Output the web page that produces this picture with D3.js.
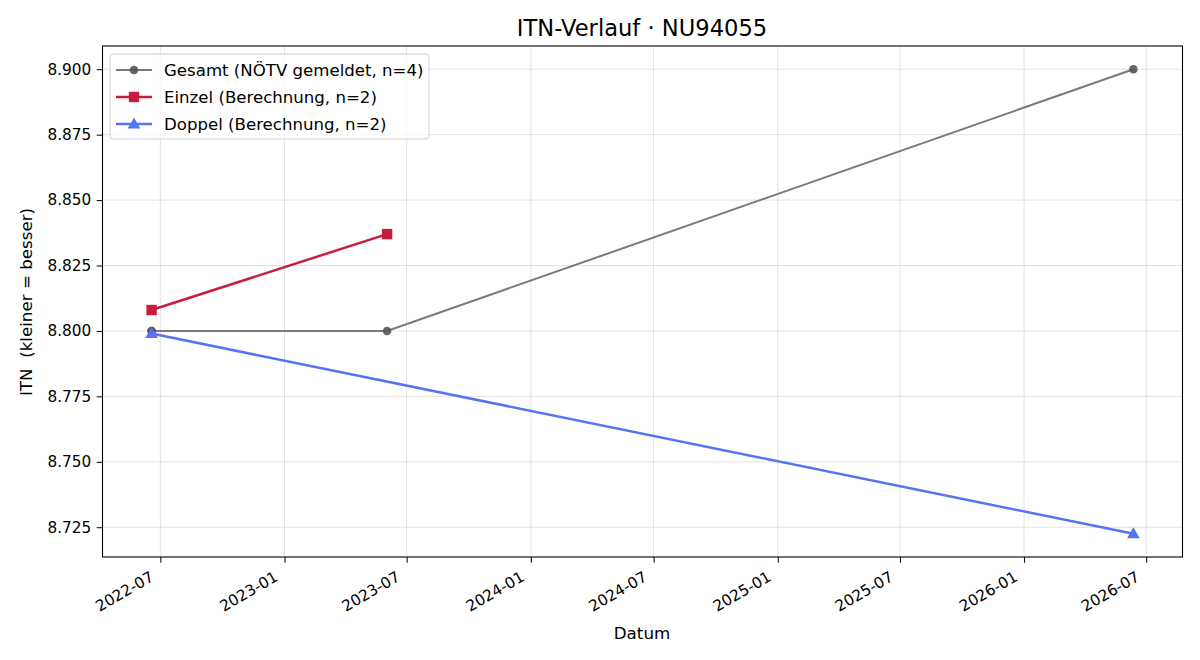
<!DOCTYPE html>
<html><head><meta charset="utf-8">
<script src="https://cdn.jsdelivr.net/npm/d3@7"></script>
<style>body{margin:0;background:#fff}svg{font-family:"DejaVu Sans",sans-serif}</style>
</head><body><svg id="c" width="1200" height="660"></svg>
<script>
const gesamtDates = ["2022-06-18","2022-06-18","2023-06-02","2026-06-12"];
const gesamtValues = [8.800, 8.800, 8.800, 8.900];
const einzelDates = ["2022-06-18","2023-06-02"];
const einzelValues = [8.808, 8.837];
const doppelDates = ["2022-06-18","2026-06-12"];
const doppelValues = [8.799, 8.7225];
const yTicks = [8.725, 8.750, 8.775, 8.800, 8.825, 8.850, 8.875, 8.900];
const xTickLabels = ["2022-07","2023-01","2023-07","2024-01","2024-07","2025-01","2025-07","2026-01","2026-07"];
const seriesNames = ["Gesamt (NÖTV gemeldet, n=4)","Einzel (Berechnung, n=2)","Doppel (Berechnung, n=2)"];

const parse = d3.utcParse("%Y-%m-%d");
const parseM = d3.utcParse("%Y-%m");
const svg = d3.select("#c");
const FF = "DejaVu Sans";
const L=102.5, R=1182.5, T=46, B=557;

const series = [
  {name:seriesNames[0], dates:gesamtDates, values:gesamtValues, line:"#7a7a7a", mark:"#555555", lw:2, shape:"circle"},
  {name:seriesNames[1], dates:einzelDates, values:einzelValues, line:"#c81e3c", mark:"#c81e3c", lw:2.5, shape:"square"},
  {name:seriesNames[2], dates:doppelDates, values:doppelValues, line:"#5673f2", mark:"#5673f2", lw:2.5, shape:"triangle"}
].map(s=>({...s, pts:s.dates.map((d,i)=>({x:parse(d), y:s.values[i]}))}));

const allX = series.flatMap(s=>s.pts.map(p=>+p.x));
const allY = series.flatMap(s=>s.pts.map(p=>p.y));
const xmin=d3.min(allX), xmax=d3.max(allX), xs=(xmax-xmin)*0.05;
const ymin=d3.min(allY), ymax=d3.max(allY), ys=(ymax-ymin)*0.05;
const x = d3.scaleUtc().domain([new Date(xmin-xs), new Date(xmax+xs)]).range([L,R]);
const y = d3.scaleLinear().domain([ymin-ys, ymax+ys]).range([B,T]);

const xTicks = xTickLabels.map(parseM);

// grid
const g = svg.append("g");
g.selectAll(".gx").data(xTicks).enter().append("line")
 .attr("x1",d=>x(d)).attr("x2",d=>x(d)).attr("y1",T).attr("y2",B)
 .attr("stroke","#b0b0b0").attr("stroke-opacity",0.4).attr("stroke-width",0.9);
g.selectAll(".gy").data(yTicks).enter().append("line")
 .attr("x1",L).attr("x2",R).attr("y1",d=>y(d)).attr("y2",d=>y(d))
 .attr("stroke","#b0b0b0").attr("stroke-opacity",0.4).attr("stroke-width",0.9);

// axes
const xAxis = d3.axisBottom(x).tickValues(xTicks).tickFormat(d3.utcFormat("%Y-%m")).tickSize(5.8).tickPadding(5);
const xg = svg.append("g").attr("transform",`translate(0,${B})`).call(xAxis);
xg.attr("font-family",FF);
xg.select(".domain").remove();
xg.selectAll("line").attr("stroke","#000").attr("stroke-width",1);
xg.selectAll("text").attr("font-size",15.3).attr("fill","#000")
  .attr("text-anchor","end").attr("dy",null).attr("y",0)
  .attr("transform","translate(-6,23) rotate(-30)");

const yAxis = d3.axisLeft(y).tickValues(yTicks).tickFormat(d3.format(".3f")).tickSize(5.8).tickPadding(5.5);
const yg = svg.append("g").attr("transform",`translate(${L},0)`).call(yAxis);
yg.attr("font-family",FF);
yg.select(".domain").remove();
yg.selectAll("line").attr("stroke","#000").attr("stroke-width",1);
yg.selectAll("text").attr("font-size",15.3).attr("fill","#000");

// lines
const line = d3.line().x(d=>x(d.x)).y(d=>y(d.y));
const plot = svg.append("g");
function marker(sel, s, cx, cy){
  if(s.shape==="circle") sel.append("circle").attr("cx",cx).attr("cy",cy).attr("r",4.3).attr("fill",s.mark).attr("fill-opacity",0.9);
  else if(s.shape==="square") sel.append("rect").attr("x",cx-5.2).attr("y",cy-5.2).attr("width",10.4).attr("height",10.4).attr("fill",s.mark);
  else sel.append("path").attr("d",d3.symbol(d3.symbolTriangle, 70)()).attr("transform",`translate(${cx},${cy+0.8})`).attr("fill",s.mark);
}
series.forEach(s=>{
  plot.append("path").datum(s.pts).attr("d",line).attr("fill","none").attr("stroke",s.line).attr("stroke-width",s.lw);
  s.pts.forEach(p=>marker(plot,s,x(p.x),y(p.y)));
});

// frame
svg.append("rect").attr("x",L).attr("y",T).attr("width",R-L).attr("height",B-T)
 .attr("fill","none").attr("stroke","#000").attr("stroke-width",1.1);

// legend
const lg = svg.append("g");
lg.append("rect").attr("x",110).attr("y",54).attr("width",319).attr("height",85).attr("rx",3)
 .attr("fill","#fff").attr("fill-opacity",0.8).attr("stroke","#d0d0d0").attr("stroke-width",1);
series.forEach((s,i)=>{
  const yy = 70 + i*27;
  lg.append("line").attr("x1",116).attr("x2",152).attr("y1",yy).attr("y2",yy).attr("stroke",s.line).attr("stroke-width",s.lw);
  marker(lg,s,134,yy);
  lg.append("text").attr("x",164).attr("y",yy).attr("dy","0.36em").attr("font-size",16.6).text(s.name);
});

// labels
svg.append("text").attr("x",642).attr("y",36).attr("text-anchor","middle").attr("font-size",22.6).text("ITN-Verlauf · NU94055");
svg.append("text").attr("x",642).attr("y",639).attr("text-anchor","middle").attr("font-size",16.7).text("Datum");
svg.append("text").attr("transform","translate(32,302) rotate(-90)").attr("text-anchor","middle").attr("font-size",16.7)
  .style("white-space","pre").text("ITN  (kleiner = besser)");
</script></body></html>
